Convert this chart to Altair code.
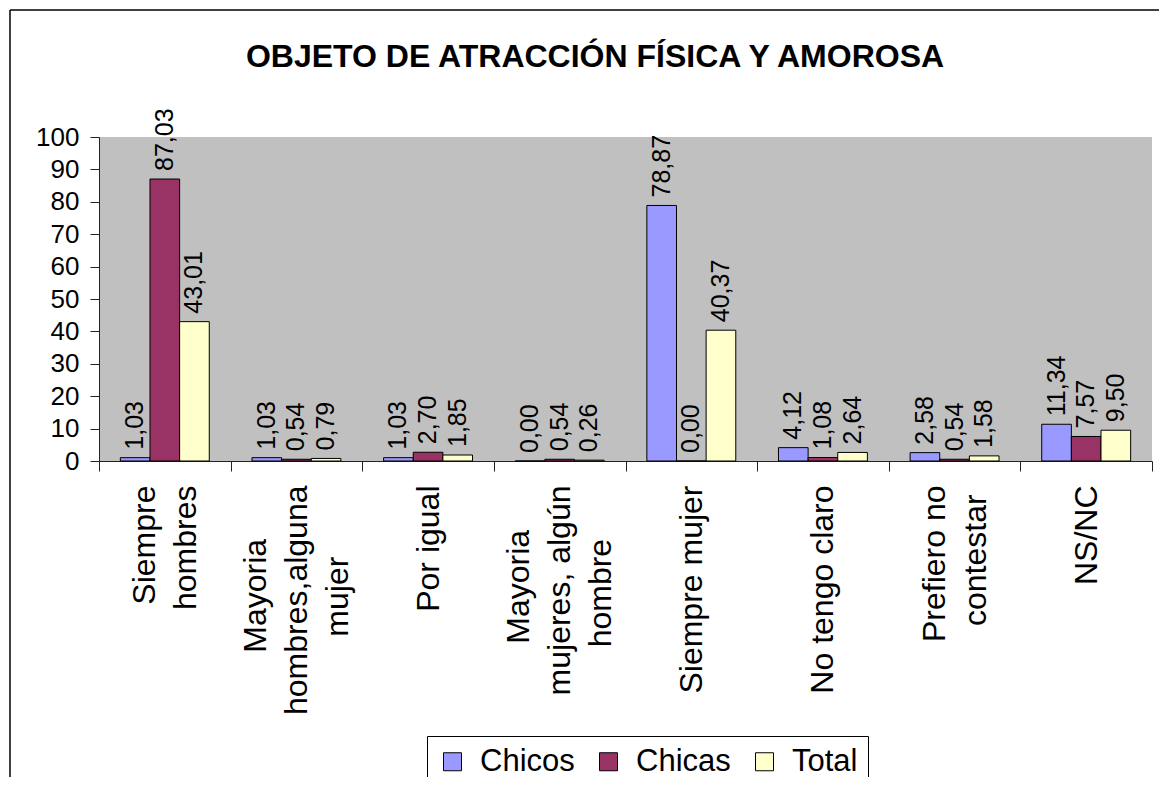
import altair as alt
import pandas as pd

# ---------------- data ----------------
title_text = "OBJETO DE ATRACCIÓN FÍSICA Y AMOROSA"
category_lines = [
    ["Siempre", "hombres"],
    ["Mayoria", "hombres,alguna", "mujer"],
    ["Por igual"],
    ["Mayoria", "mujeres, algún", "hombre"],
    ["Siempre mujer"],
    ["No tengo claro"],
    ["Prefiero no", "contestar"],
    ["NS/NC"],
]
series = ["Chicos", "Chicas", "Total"]
chicos = [1.03, 1.03, 1.03, 0.00, 78.87, 4.12, 2.58, 11.34]
chicas = [87.03, 0.54, 2.70, 0.54, 0.00, 1.08, 0.54, 7.57]
total = [43.01, 0.79, 1.85, 0.26, 40.37, 2.64, 1.58, 9.50]
y_ticks = [0, 10, 20, 30, 40, 50, 60, 70, 80, 90, 100]
colors = ["#9999FF", "#993366", "#FFFFCC"]

# centre the lines of each multi-line axis label (Arial advance widths, 1/1000 em)
W = {' ': 278, ',': 278, '/': 278, 'a': 556, 'b': 556, 'c': 500, 'e': 556, 'f': 278,
     'g': 556, 'h': 556, 'i': 222, 'j': 222, 'l': 222, 'm': 833, 'n': 556, 'o': 556,
     'p': 556, 'q': 556, 'r': 333, 's': 500, 't': 278, 'u': 556, 'ú': 556, 'y': 500,
     'C': 722, 'M': 833, 'N': 722, 'P': 667, 'S': 667}


def width(s):
    return sum(W.get(ch, 556) for ch in s)


def centred(lines):
    m = max(width(l) for l in lines)
    out = []
    for l in lines:
        n = int(round((m - width(l)) / 2 / 278))
        out.append(l + ("\u00a0" * n + "\u200b" if n > 0 else ""))
    return "\n".join(out)


cat_labels = [centred(l) for l in category_lines]

rows = []
for i, c in enumerate(cat_labels):
    for s, vals in zip(series, [chicos, chicas, total]):
        rows.append({"cat": c, "serie": s, "value": vals[i]})
df = pd.DataFrame(rows)

LH = 41  # axis label line height

x_enc = alt.X("cat:N", sort=cat_labels,
              scale=alt.Scale(paddingInner=0, paddingOuter=0),
              axis=alt.Axis(title=None, labelAngle=270, labelAlign="right",
                            labelBaseline="middle", labelExpr="split(datum.label, '\\n')",
                            labelFontSize=32, labelLineHeight=LH, labelPadding=14,
                            labelLimit=500, labelOverlap=False, tickBand="extent",
                            labelOffset={"condition": [
                                {"test": "length(split(datum.value, '\\n')) == 3", "value": -LH},
                                {"test": "length(split(datum.value, '\\n')) == 2", "value": -LH / 2},
                            ], "value": 0},
                            tickSize=10, labelColor="black", domainColor="#222",
                            tickColor="#222"))
xo_enc = alt.XOffset("serie:N", sort=series,
                     scale=alt.Scale(paddingInner=0, paddingOuter=0.72))
y_enc = alt.Y("value:Q", scale=alt.Scale(domain=[0, 100], nice=False),
              axis=alt.Axis(title=None, values=y_ticks, tickCount=11, labelFontSize=26,
                            labelColor="black", tickSize=9, labelPadding=11,
                            labelOverlap=False, grid=False, domainColor="#222",
                            tickColor="#222"))

base = alt.Chart(df)

bars = base.mark_bar(stroke="black", strokeWidth=1).encode(
    x=x_enc, xOffset=xo_enc, y=y_enc,
    color=alt.Color("serie:N", sort=series,
                    scale=alt.Scale(domain=series, range=colors),
                    legend=alt.Legend(title=None, orient="none", legendX=328, legendY=599,
                                      direction="horizontal", symbolType="square",
                                      symbolSize=324, symbolStrokeColor="black",
                                      symbolStrokeWidth=1, symbolOpacity=1,
                                      labelFontSize=31, labelColor="black",
                                      labelOffset=12, columnPadding=18, padding=10,
                                      strokeColor="black", fillColor="white")),
)

labels = base.transform_calculate(
    lab="replace(format(datum.value, '.2f'), '.', ',')"
).mark_text(angle=270, align="left", baseline="middle", dx=8, fontSize=25,
            color="black").encode(
    x=x_enc, xOffset=xo_enc, y=y_enc, text="lab:N")

deco_df = pd.DataFrame({"title": [title_text]})
title = alt.Chart(deco_df).mark_text(fontSize=32, fontWeight="bold", align="center",
                                     baseline="alphabetic", color="black").encode(
    x=alt.value(496), y=alt.value(-70), text="title:N")
left_border = alt.Chart(deco_df).mark_rule(color="black", strokeWidth=1.5).encode(
    x=alt.value(-89), y=alt.value(-127), y2=alt.value(700))
top_border = alt.Chart(deco_df).mark_rule(color="black", strokeWidth=1.5).encode(
    x=alt.value(-89), x2=alt.value(1070), y=alt.value(-127))

chart = alt.layer(bars, labels, title, left_border, top_border).properties(
    width=1053, height=324,
    autosize=alt.AutoSizeParams(type="none"),
    padding={"left": 91, "top": 129, "right": 7, "bottom": 316},
).configure(font="Liberation Sans").configure_view(
    fill="#C0C0C0", stroke=None
)

chart.save("out.html", embed_options={"renderer": "svg", "actions": False})
